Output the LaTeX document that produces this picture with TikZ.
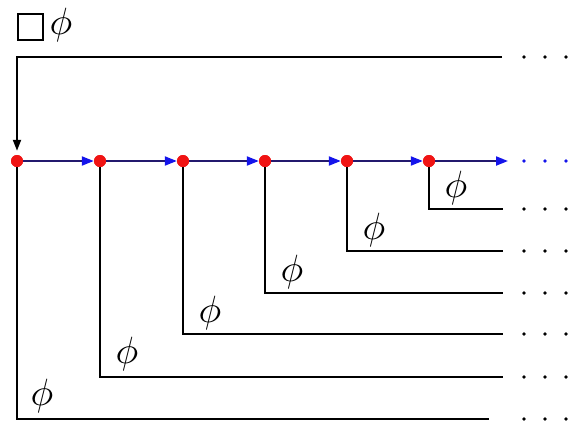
\documentclass[tikz,border=0pt]{standalone}
\usepackage{graphicx}
\usetikzlibrary{arrows.meta}
\definecolor{chain}{RGB}{35,25,110}
\definecolor{tipblue}{RGB}{20,20,235}
\definecolor{dotred}{RGB}{240,20,20}
\newcommand{\bigphi}{\scalebox{3.8}{$\phi$}}
\begin{document}
\begin{tikzpicture}[x=1pt,y=-1pt,
  wire/.style={line width=2pt,black},
  feed/.style={wire,-{Triangle[length=11pt,width=8pt]}},
  link/.style={line width=2pt,chain,
    -{Triangle[length=12pt,width=9pt,color=tipblue]}},
  rdot/.style={circle,fill=dotred,minimum size=12pt,inner sep=0pt},
  lbl/.style={inner sep=0pt},
  ell/.style={radius=1.9pt}]
\useasboundingbox (0,0) rectangle (572,421);

% header symbol
\draw[line width=2.4pt] (18,14) rectangle (43,40);
\node[lbl] (hphi) at (61,25) {\bigphi};

% chain nodes
\foreach \i/\x in {0/17,1/100,2/183,3/265,4/347,5/429}
  \node[rdot] (d\i) at (\x,161) {};
\coordinate (chainend) at (508,161);

% top feed line into the first node
\coordinate (feedR) at (502,57);
\coordinate (feedL) at (17,57);
\draw[feed] (feedR) -- (feedL) -- ([yshift=4pt]d0.north);

% chain links
\foreach \a/\b in {0/1,1/2,2/3,3/4,4/5}
  \draw[link] (d\a.east) -- (d\b.west);
\draw[link] (d5.east) -- (chainend);

% branch outputs
\foreach \i/\y/\e in {5/209/503,4/251/503,3/293/503,2/334/503,1/377/503,0/419/489}{
  \coordinate (o\i) at (\e,\y);
  \draw[wire] (d\i.center) |- (o\i);
}
\foreach \a in {0,...,5} \node[rdot] at (d\a) {};

% labels on the branches
\foreach \i/\x/\y in {5/456/188,4/374/230,3/292/272,2/210/313,1/127/354,0/42/396}
  \node[lbl] (p\i) at (\x,\y) {\bigphi};

% continuation dots
\foreach \y in {57,209,251,293,334,377,419}
  \foreach \x in {524,545,566}
    \fill (\x,\y) circle[ell];
\foreach \x in {524,545,566}
  \fill[tipblue] (\x,161) circle[ell];
\end{tikzpicture}
\end{document}
